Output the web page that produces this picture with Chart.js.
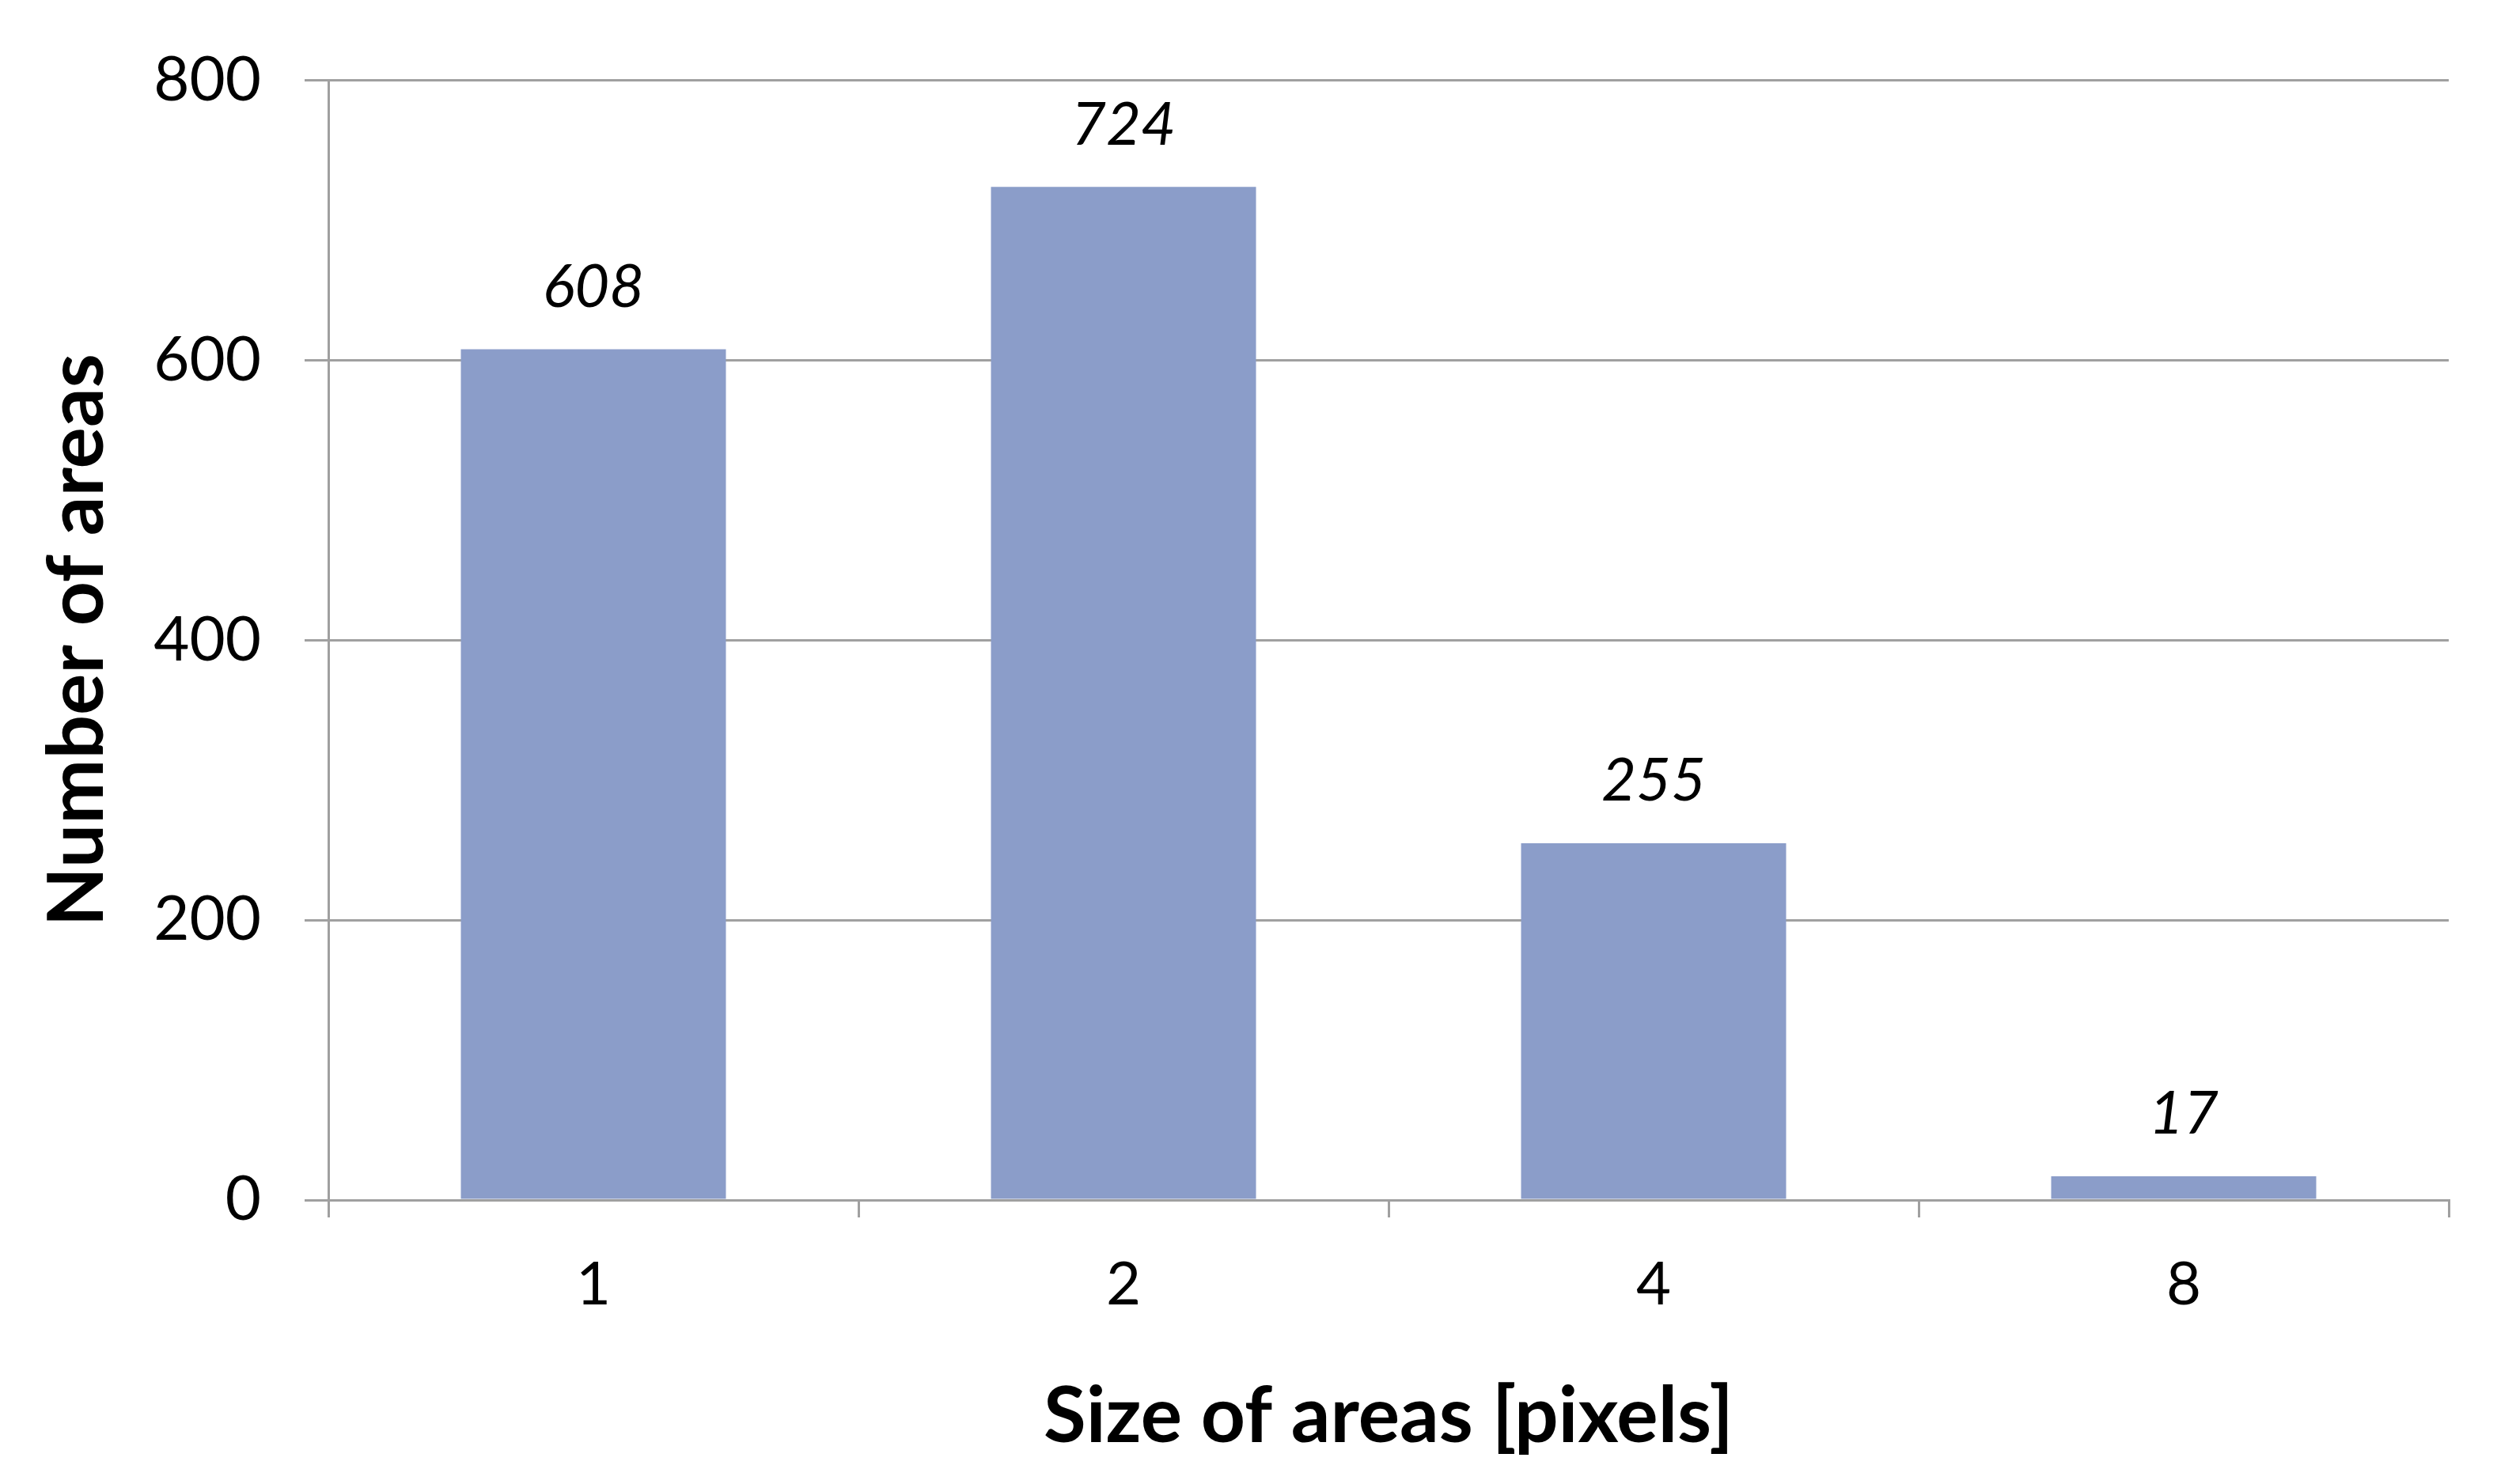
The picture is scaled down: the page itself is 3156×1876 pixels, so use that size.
<!DOCTYPE html>
<html><head><meta charset="utf-8">
<script src="https://cdn.jsdelivr.net/npm/chart.js@4/dist/chart.umd.min.js"></script>
<style>html,body{margin:0;padding:0;background:#fff}#w{width:3156px;height:1876px}</style>
</head><body><div id="w"><canvas id="c"></canvas></div>
<script>
const categories = ["1","2","4","8"];
const counts = [608, 724, 255, 17];
const yTicks = [0, 200, 400, 600, 800];
const FONT = "Lato, 'Open Sans', sans-serif";
const labelPlugin = {
  id: 'vals',
  afterDatasetsDraw(chart) {
    const ctx = chart.ctx;
    const meta = chart.getDatasetMeta(0);
    ctx.save();
    ctx.font = "italic 76px " + FONT;
    ctx.fillStyle = "#000";
    ctx.textAlign = "center";
    ctx.textBaseline = "bottom";
    meta.data.forEach((b, i) => ctx.fillText(String(counts[i]), b.x, b.y - 40));
    ctx.restore();
  }
};
Chart.defaults.font.family = FONT;
new Chart(document.getElementById('c'), {
  type: 'bar',
  data: { labels: categories, datasets: [{ data: counts, backgroundColor: '#8b9dc9', categoryPercentage: 0.5, barPercentage: 1 }] },
  options: {
    responsive: true, maintainAspectRatio: false, animation: false,
    layout: { padding: { left: 20, right: 61, top: 91, bottom: 0 } },
    plugins: { legend: { display: false }, tooltip: { enabled: false } },
    scales: {
      x: {
        afterFit: s => { s.height = 359; },
        grid: { offset: true, drawOnChartArea: false, color: '#a0a0a0', lineWidth: 3, tickLength: 22 },
        border: { color: '#a0a0a0', width: 3 },
        ticks: { color: '#000', font: { size: 76 }, padding: 40 },
        title: { display: true, text: 'Size of areas [pixels]', color: '#000', font: { size: 98, weight: 'bold' }, padding: { top: 26, bottom: 26 } }
      },
      y: {
        min: 0, max: 800,
        afterFit: s => { s.width = 395; },
        afterBuildTicks: s => { s.ticks = yTicks.map(v => ({ value: v })); },
        grid: { color: '#a0a0a0', lineWidth: 3, tickLength: 30 },
        border: { color: '#a0a0a0', width: 3 },
        ticks: { color: '#000', font: { size: 78 }, padding: 55 },
        title: { display: true, text: 'Number of areas', color: '#000', font: { size: 98, weight: 'bold' }, padding: { top: 20, bottom: 20 } }
      }
    }
  },
  plugins: [labelPlugin]
});
</script></body></html>
